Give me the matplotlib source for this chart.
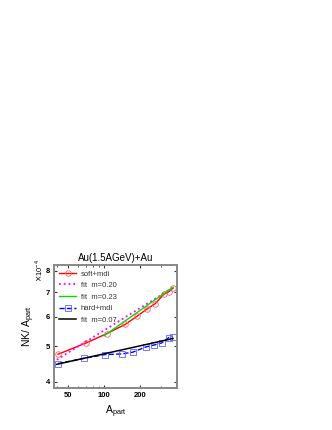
import numpy as np
from matplotlib import pyplot as plt
from matplotlib.ticker import FixedLocator, NullFormatter, NullLocator, FixedFormatter

plt.rcParams['font.family'] = ['Liberation Sans', 'DejaVu Sans']

# --- donnees (NK/A_part en unites de 1e-4) ---
A_soft = [41, 71, 105, 150, 189, 229, 270, 318, 350, 380]
nk_soft = [4.75, 5.10, 5.40, 5.72, 6.02, 6.30, 6.52, 6.91, 7.02, 7.18]

A_hard = [41, 68, 102, 141, 174, 224, 262, 306, 350, 378]
nk_hard = [4.48, 4.63, 4.74, 4.76, 4.81, 4.97, 5.03, 5.10, 5.27, 5.30]

# fits en loi de puissance (droites en log-log, deux extremites)
fit020_x = [40, 380]
fit020_y = [4.59, 7.20]
fit023_x = [100, 380]
fit023_y = [5.33, 7.22]
fit007_x = [40, 380]
fit007_y = [4.46, 5.24]

yticks = [4, 5, 6, 7, 8]
xticks = [50, 100, 200]
xminor = [40, 60, 70, 80, 90, 300, 400]

fig = plt.figure(figsize=(3.32, 4.30), dpi=100)
ax = fig.add_axes([0.163, 0.098, 0.370, 0.286])

ax.plot(A_soft, nk_soft, '-', color='red', lw=1.0, marker='o', ms=4,
        mfc='none', mec='#ff6060', mew=0.6, label='soft+mdi')
ax.plot(fit020_x, fit020_y, ':', color='magenta', lw=1.3, label='fit  m=0.20')
ax.plot(fit023_x, fit023_y, '-', color='#00dd00', lw=1.0, label='fit  m=0.23')
ax.plot(A_hard, nk_hard, '--', color='blue', lw=1.0, marker='s', ms=4,
        mfc='none', mec='#6060ff', mew=0.6, label='hard+mdi')
ax.plot(fit007_x, fit007_y, '-', color='black', lw=1.1, label='fit  m=0.07')

ax.set_xscale('log')
ax.set_yscale('log')
ax.set_xlim(38, 410)
ax.set_ylim(3.85, 8.3)

ax.xaxis.set_major_locator(FixedLocator(xticks))
ax.xaxis.set_major_formatter(FixedFormatter([str(t) for t in xticks]))
ax.xaxis.set_minor_locator(FixedLocator(xminor))
ax.xaxis.set_minor_formatter(NullFormatter())
ax.yaxis.set_major_locator(FixedLocator(yticks))
ax.yaxis.set_major_formatter(FixedFormatter([str(t) for t in yticks]))
ax.yaxis.set_minor_locator(NullLocator())

ax.tick_params(which='both', direction='in', top=True, right=True,
               labelsize=5.5, color='#333333', pad=3)
ax.tick_params(which='major', length=2.5, width=0.8)
ax.tick_params(which='minor', length=1.5, width=0.6)
for lab in ax.get_xticklabels() + ax.get_yticklabels():
    lab.set_fontweight('bold')
for s in ax.spines.values():
    s.set_color('#888888')
    s.set_linewidth(1.4)

ax.set_title('Au(1.5AGeV)+Au', fontsize=7, pad=3)
ax.set_xlabel('A$_{\\mathregular{part}}$', fontsize=7.5, labelpad=3)
ax.set_ylabel('NK/ A$_{\\mathregular{part}}$', fontsize=7.5, labelpad=6)
fig.text(0.118, 0.37, '$\\times$10$^{\\mathregular{-4}}$', rotation=90,
         fontsize=5.5, ha='center', va='center')

ax.legend(loc='upper left', frameon=False, fontsize=5.5, handlelength=2.2,
          handletextpad=0.6, labelspacing=0.55, borderaxespad=0.3,
          labelcolor='#333333')

fig.savefig('out.png', dpi=100)
